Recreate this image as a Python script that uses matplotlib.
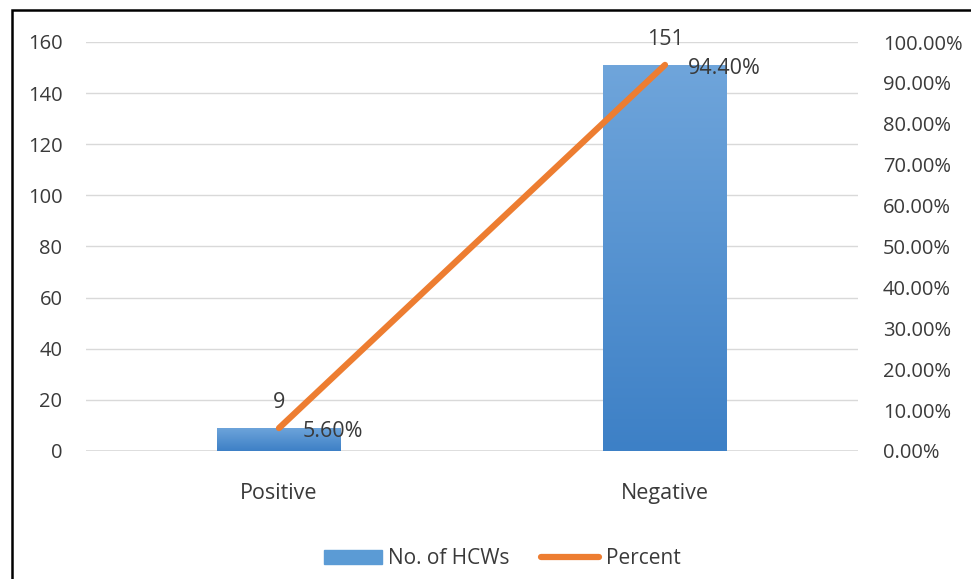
import matplotlib.pyplot as plt
import numpy as np
from matplotlib.patches import Rectangle, Patch
from matplotlib.colors import LinearSegmentedColormap
from matplotlib.ticker import FuncFormatter

categories = ['Positive', 'Negative']
counts = [9, 151]
percent = [0.056, 0.944]
count_labels = ['9', '151']
percent_labels = ['5.60%', '94.40%']

plt.rcParams['font.family'] = ['Open Sans', 'DejaVu Sans']
txt = '#3a3a3a'
fs = 14.5

fig = plt.figure(figsize=(9.71, 5.79), dpi=100)
ax = fig.add_axes([86 / 971, 1 - 451 / 579, 772 / 971, 409 / 579])
x = np.arange(len(categories))

# bars, filled with a vertical gradient
bars = ax.bar(x, counts, width=0.32, color='#5b9bd5', zorder=2, label='No. of HCWs')
grad = np.linspace(0, 1, 256).reshape(-1, 1)
cmap = LinearSegmentedColormap.from_list('b', ['#3d80c6', '#6fa5db'])
for b in bars:
    x0, y0, w, h = b.get_x(), b.get_y(), b.get_width(), b.get_height()
    im = ax.imshow(grad, extent=[x0, x0 + w, y0, y0 + h], origin='lower',
                   cmap=cmap, aspect='auto', zorder=2)
    im.set_clip_path(b)
    b.set_alpha(0)

ax.set_xlim(-0.5, 1.5)
ax.set_ylim(0, 160)
ax.set_yticks(range(0, 161, 20))
ax.yaxis.grid(True, color='#d9d9d9', lw=1)
ax.set_axisbelow(True)
for s in ax.spines.values():
    s.set_visible(False)
ax.tick_params(length=0, labelsize=fs, labelcolor=txt)
ax.tick_params(axis='y', pad=17)
ax.tick_params(axis='x', pad=23)
ax.set_xticks(x)
ax.set_xticklabels(categories, fontsize=15.5)
ax.axhline(0, color='#d9d9d9', lw=1.2, zorder=1)

ax2 = ax.twinx()
ax2.set_ylim(0, 1.0)
ax2.set_yticks(np.arange(0, 1.01, 0.1))
ax2.yaxis.set_major_formatter(FuncFormatter(lambda v, p: f'{v * 100:.2f}%'))
for s in ax2.spines.values():
    s.set_visible(False)
ax2.tick_params(length=0, labelsize=fs, labelcolor=txt, pad=18)
ax2.plot(x, percent, color='#ed7d31', lw=4.5, solid_capstyle='round', label='Percent', zorder=3)

for i in range(len(categories)):
    ax.text(x[i], counts[i] + 6, count_labels[i], ha='center', va='bottom',
            fontsize=15.5, color=txt)
    ax2.text(x[i] + 0.06, percent[i] - 0.008, percent_labels[i], ha='left', va='center',
             fontsize=15.5, color=txt, zorder=4)

h2, l2 = ax2.get_legend_handles_labels()
leg = fig.legend([Patch(color='#5b9bd5'), h2[0]], ['No. of HCWs', l2[0]], loc='center',
                 bbox_to_anchor=(0.517, 0.035), ncol=2, frameon=False, fontsize=15,
                 handlelength=2.8, handletextpad=0.3, columnspacing=1.5)
for t in leg.get_texts():
    t.set_color(txt)

fig.patches.append(Rectangle((12 / 971, -0.1), 1.2, 1.1 - 10 / 579, transform=fig.transFigure,
                             fill=False, edgecolor='black', lw=1.8))

fig.savefig('out.png', dpi=100)
